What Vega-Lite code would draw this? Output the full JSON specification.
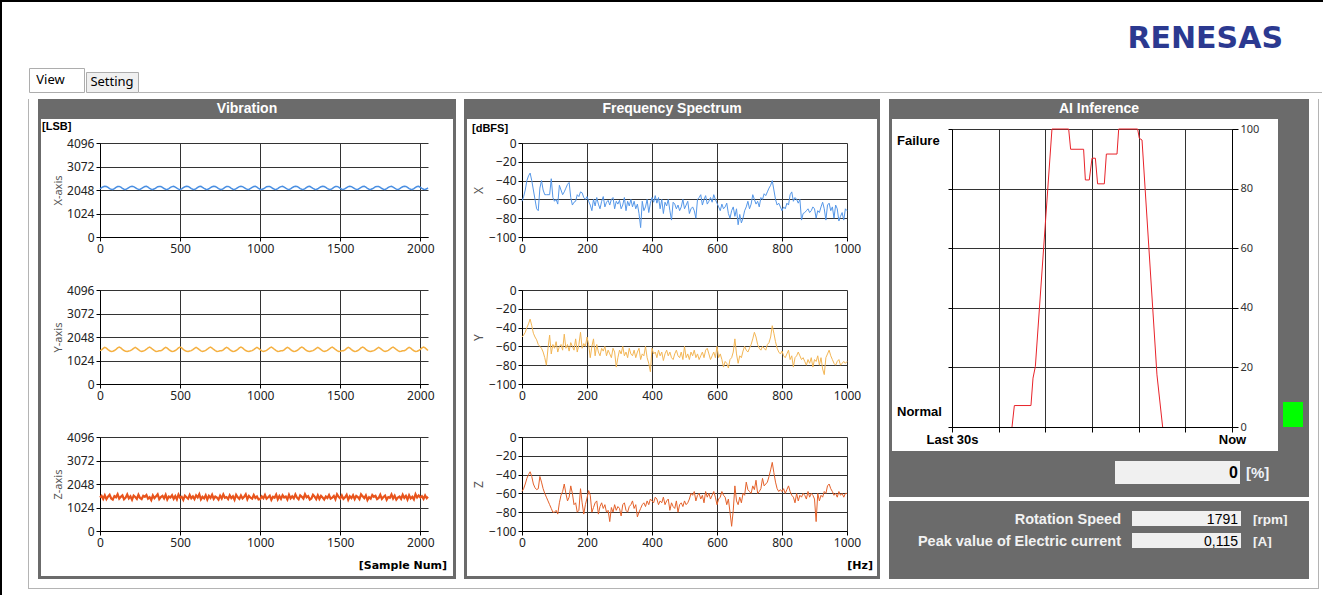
{
"$schema":"https://vega.github.io/schema/vega-lite/v6.json",
"background":"#ffffff",
"padding":0,
"spacing":0,
"config":{
"view":{"stroke":null},
"concat":{"spacing":0},
"text":{"font":"Liberation Sans"},
"axis":{"domainColor":"#000000","tickColor":"#000000","gridColor":"#333333","gridOpacity":1,"gridWidth":1,"tickSize":4,"labelFont":"Noto Sans","labelFontSize":12,"labelColor":"#222222","labelPadding":2,"labelFlush":false,"labelOverlap":false,"titleFont":"Noto Sans","titleFontSize":11,"titleFontWeight":"normal","titleColor":"#555555","titlePadding":3}
},
"datasets":{
"vib":[
{"n":0,"x":2100,"y":1450,"z":1460},{"n":10,"x":2150,"y":1490,"z":1530},{"n":20,"x":2190,"y":1550,"z":1400},{"n":30,"x":2210,"y":1600,"z":1560},{"n":40,"x":2200,"y":1560,"z":1390},{"n":50,"x":2160,"y":1500,"z":1500},{"n":60,"x":2110,"y":1450,"z":1580},{"n":70,"x":2080,"y":1420,"z":1420},{"n":80,"x":2070,"y":1430,"z":1370},{"n":90,"x":2110,"y":1460,"z":1520},
{"n":100,"x":2160,"y":1510,"z":1470},{"n":110,"x":2200,"y":1570,"z":1600},{"n":120,"x":2205,"y":1610,"z":1410},{"n":130,"x":2170,"y":1570,"z":1490},{"n":140,"x":2120,"y":1510,"z":1550},{"n":150,"x":2085,"y":1460,"z":1380},{"n":160,"x":2075,"y":1425,"z":1450},{"n":170,"x":2105,"y":1420,"z":1590},{"n":180,"x":2155,"y":1440,"z":1420},{"n":190,"x":2195,"y":1455,"z":1510},
{"n":200,"x":2215,"y":1500,"z":1360},{"n":210,"x":2195,"y":1555,"z":1540},{"n":220,"x":2155,"y":1595,"z":1480},{"n":230,"x":2105,"y":1555,"z":1400},{"n":240,"x":2075,"y":1495,"z":1580},{"n":250,"x":2070,"y":1445,"z":1440},{"n":260,"x":2115,"y":1415,"z":1390},{"n":270,"x":2165,"y":1435,"z":1530},{"n":280,"x":2200,"y":1465,"z":1490},{"n":290,"x":2210,"y":1515,"z":1570},
{"n":300,"x":2175,"y":1575,"z":1410},{"n":310,"x":2115,"y":1605,"z":1470},{"n":320,"x":2080,"y":1565,"z":1350},{"n":330,"x":2070,"y":1505,"z":1550},{"n":340,"x":2100,"y":1455,"z":1430},{"n":350,"x":2145,"y":1420,"z":1510},{"n":360,"x":2190,"y":1425,"z":1600},{"n":370,"x":2205,"y":1445,"z":1390},{"n":380,"x":2200,"y":1450,"z":1480},{"n":390,"x":2165,"y":1490,"z":1530},
{"n":400,"x":2110,"y":1550,"z":1420},{"n":410,"x":2085,"y":1600,"z":1580},{"n":420,"x":2075,"y":1560,"z":1370},{"n":430,"x":2110,"y":1500,"z":1500},{"n":440,"x":2160,"y":1450,"z":1460},{"n":450,"x":2195,"y":1420,"z":1560},{"n":460,"x":2205,"y":1430,"z":1400},{"n":470,"x":2170,"y":1460,"z":1520},{"n":480,"x":2125,"y":1510,"z":1380},{"n":490,"x":2085,"y":1570,"z":1590},
{"n":500,"x":2070,"y":1610,"z":1450},{"n":510,"x":2095,"y":1570,"z":1490},{"n":520,"x":2150,"y":1510,"z":1360},{"n":530,"x":2190,"y":1460,"z":1540},{"n":540,"x":2210,"y":1425,"z":1470},{"n":550,"x":2205,"y":1420,"z":1410},{"n":560,"x":2160,"y":1440,"z":1570},{"n":570,"x":2105,"y":1455,"z":1430},{"n":580,"x":2080,"y":1500,"z":1510},{"n":590,"x":2070,"y":1555,"z":1390},
{"n":600,"x":2105,"y":1595,"z":1550},{"n":610,"x":2160,"y":1555,"z":1460},{"n":620,"x":2200,"y":1495,"z":1600},{"n":630,"x":2210,"y":1445,"z":1380},{"n":640,"x":2165,"y":1415,"z":1490},{"n":650,"x":2120,"y":1435,"z":1420},{"n":660,"x":2080,"y":1465,"z":1560},{"n":670,"x":2075,"y":1515,"z":1370},{"n":680,"x":2100,"y":1575,"z":1530},{"n":690,"x":2150,"y":1605,"z":1440},
{"n":700,"x":2190,"y":1565,"z":1580},{"n":710,"x":2210,"y":1505,"z":1400},{"n":720,"x":2200,"y":1455,"z":1500},{"n":730,"x":2160,"y":1420,"z":1460},{"n":740,"x":2110,"y":1425,"z":1370},{"n":750,"x":2080,"y":1445,"z":1540},{"n":760,"x":2070,"y":1450,"z":1420},{"n":770,"x":2110,"y":1490,"z":1590},{"n":780,"x":2160,"y":1550,"z":1450},{"n":790,"x":2200,"y":1600,"z":1480},
{"n":800,"x":2205,"y":1560,"z":1390},{"n":810,"x":2170,"y":1500,"z":1560},{"n":820,"x":2120,"y":1450,"z":1430},{"n":830,"x":2085,"y":1420,"z":1510},{"n":840,"x":2075,"y":1430,"z":1360},{"n":850,"x":2105,"y":1460,"z":1580},{"n":860,"x":2155,"y":1510,"z":1470},{"n":870,"x":2195,"y":1570,"z":1400},{"n":880,"x":2215,"y":1610,"z":1550},{"n":890,"x":2195,"y":1570,"z":1420},
{"n":900,"x":2155,"y":1510,"z":1490},{"n":910,"x":2105,"y":1460,"z":1600},{"n":920,"x":2075,"y":1425,"z":1380},{"n":930,"x":2070,"y":1420,"z":1530},{"n":940,"x":2115,"y":1440,"z":1450},{"n":950,"x":2165,"y":1455,"z":1410},{"n":960,"x":2200,"y":1500,"z":1570},{"n":970,"x":2210,"y":1555,"z":1440},{"n":980,"x":2175,"y":1595,"z":1500},{"n":990,"x":2115,"y":1555,"z":1370},
{"n":1000,"x":2080,"y":1495,"z":1390},{"n":1010,"x":2070,"y":1445,"z":1510},{"n":1020,"x":2100,"y":1415,"z":1430},{"n":1030,"x":2145,"y":1435,"z":1570},{"n":1040,"x":2190,"y":1465,"z":1410},{"n":1050,"x":2205,"y":1515,"z":1470},{"n":1060,"x":2200,"y":1575,"z":1540},{"n":1070,"x":2165,"y":1605,"z":1360},{"n":1080,"x":2110,"y":1565,"z":1490},{"n":1090,"x":2085,"y":1505,"z":1450},
{"n":1100,"x":2075,"y":1455,"z":1590},{"n":1110,"x":2110,"y":1420,"z":1380},{"n":1120,"x":2160,"y":1425,"z":1520},{"n":1130,"x":2195,"y":1445,"z":1400},{"n":1140,"x":2205,"y":1450,"z":1560},{"n":1150,"x":2170,"y":1490,"z":1460},{"n":1160,"x":2125,"y":1550,"z":1500},{"n":1170,"x":2085,"y":1600,"z":1370},{"n":1180,"x":2070,"y":1560,"z":1580},{"n":1190,"x":2095,"y":1500,"z":1420},
{"n":1200,"x":2150,"y":1450,"z":1510},{"n":1210,"x":2190,"y":1420,"z":1420},{"n":1220,"x":2210,"y":1430,"z":1590},{"n":1230,"x":2205,"y":1460,"z":1450},{"n":1240,"x":2160,"y":1510,"z":1380},{"n":1250,"x":2105,"y":1570,"z":1550},{"n":1260,"x":2080,"y":1610,"z":1490},{"n":1270,"x":2070,"y":1570,"z":1410},{"n":1280,"x":2105,"y":1510,"z":1600},{"n":1290,"x":2160,"y":1460,"z":1470},
{"n":1300,"x":2200,"y":1425,"z":1520},{"n":1310,"x":2210,"y":1420,"z":1370},{"n":1320,"x":2165,"y":1440,"z":1420},{"n":1330,"x":2120,"y":1455,"z":1580},{"n":1340,"x":2080,"y":1500,"z":1500},{"n":1350,"x":2075,"y":1555,"z":1390},{"n":1360,"x":2100,"y":1595,"z":1560},{"n":1370,"x":2150,"y":1555,"z":1400},{"n":1380,"x":2190,"y":1495,"z":1530},{"n":1390,"x":2210,"y":1445,"z":1460},
{"n":1400,"x":2200,"y":1415,"z":1370},{"n":1410,"x":2160,"y":1435,"z":1500},{"n":1420,"x":2110,"y":1465,"z":1440},{"n":1430,"x":2080,"y":1515,"z":1570},{"n":1440,"x":2070,"y":1575,"z":1410},{"n":1450,"x":2110,"y":1605,"z":1450},{"n":1460,"x":2160,"y":1565,"z":1530},{"n":1470,"x":2200,"y":1505,"z":1380},{"n":1480,"x":2205,"y":1455,"z":1600},{"n":1490,"x":2170,"y":1420,"z":1490},
{"n":1500,"x":2120,"y":1425,"z":1420},{"n":1510,"x":2085,"y":1445,"z":1550},{"n":1520,"x":2075,"y":1450,"z":1400},{"n":1530,"x":2105,"y":1490,"z":1470},{"n":1540,"x":2155,"y":1550,"z":1580},{"n":1550,"x":2195,"y":1600,"z":1360},{"n":1560,"x":2215,"y":1560,"z":1510},{"n":1570,"x":2195,"y":1500,"z":1430},{"n":1580,"x":2155,"y":1450,"z":1560},{"n":1590,"x":2105,"y":1420,"z":1390},
{"n":1600,"x":2075,"y":1430,"z":1530},{"n":1610,"x":2070,"y":1460,"z":1480},{"n":1620,"x":2115,"y":1510,"z":1390},{"n":1630,"x":2165,"y":1570,"z":1600},{"n":1640,"x":2200,"y":1610,"z":1510},{"n":1650,"x":2210,"y":1570,"z":1430},{"n":1660,"x":2175,"y":1510,"z":1550},{"n":1670,"x":2115,"y":1460,"z":1350},{"n":1680,"x":2080,"y":1425,"z":1470},{"n":1690,"x":2070,"y":1420,"z":1410},
{"n":1700,"x":2100,"y":1440,"z":1570},{"n":1710,"x":2145,"y":1455,"z":1490},{"n":1720,"x":2190,"y":1500,"z":1530},{"n":1730,"x":2205,"y":1555,"z":1390},{"n":1740,"x":2200,"y":1595,"z":1440},{"n":1750,"x":2165,"y":1555,"z":1580},{"n":1760,"x":2110,"y":1495,"z":1400},{"n":1770,"x":2085,"y":1445,"z":1480},{"n":1780,"x":2075,"y":1415,"z":1540},{"n":1790,"x":2110,"y":1435,"z":1360},
{"n":1800,"x":2160,"y":1465,"z":1480},{"n":1810,"x":2195,"y":1515,"z":1450},{"n":1820,"x":2205,"y":1575,"z":1590},{"n":1830,"x":2170,"y":1605,"z":1420},{"n":1840,"x":2125,"y":1565,"z":1540},{"n":1850,"x":2085,"y":1505,"z":1370},{"n":1860,"x":2070,"y":1455,"z":1460},{"n":1870,"x":2095,"y":1420,"z":1500},{"n":1880,"x":2150,"y":1425,"z":1400},{"n":1890,"x":2190,"y":1445,"z":1580},
{"n":1900,"x":2210,"y":1450,"z":1440},{"n":1910,"x":2205,"y":1490,"z":1530},{"n":1920,"x":2160,"y":1550,"z":1370},{"n":1930,"x":2105,"y":1600,"z":1560},{"n":1940,"x":2080,"y":1560,"z":1420},{"n":1950,"x":2070,"y":1500,"z":1490},{"n":1960,"x":2105,"y":1450,"z":1380},{"n":1970,"x":2160,"y":1420,"z":1600},{"n":1980,"x":2200,"y":1430,"z":1460},{"n":1990,"x":2210,"y":1460,"z":1550},
{"n":2000,"x":2165,"y":1510,"z":1460},{"n":2010,"x":2120,"y":1570,"z":1520},{"n":2020,"x":2080,"y":1610,"z":1400},{"n":2030,"x":2075,"y":1570,"z":1550},{"n":2040,"x":2100,"y":1510,"z":1430},{"n":2048,"x":2140,"y":1460,"z":1490}
],
"spec":[
{"f":0,"x":-62,"y":-50,"z":-58},{"f":5,"x":-57,"y":-48,"z":-55},{"f":10,"x":-50,"y":-45,"z":-50},{"f":15,"x":-40,"y":-40,"z":-44},{"f":20,"x":-35,"y":-36,"z":-40},{"f":25,"x":-32,"y":-31,"z":-37},{"f":30,"x":-40,"y":-38,"z":-42},{"f":35,"x":-50,"y":-46,"z":-50},{"f":40,"x":-60,"y":-50,"z":-54},{"f":45,"x":-70,"y":-53,"z":-56},
{"f":50,"x":-72,"y":-58,"z":-55},{"f":55,"x":-48,"y":-60,"z":-42},{"f":60,"x":-40,"y":-62,"z":-48},{"f":65,"x":-50,"y":-66,"z":-55},{"f":70,"x":-55,"y":-72,"z":-60},{"f":75,"x":-55,"y":-80,"z":-64},{"f":80,"x":-55,"y":-62,"z":-68},{"f":85,"x":-55,"y":-48,"z":-72},{"f":90,"x":-38,"y":-68,"z":-76},{"f":95,"x":-58,"y":-58,"z":-80},
{"f":100,"x":-62,"y":-62,"z":-80},{"f":105,"x":-60,"y":-55,"z":-78},{"f":110,"x":-65,"y":-66,"z":-82},{"f":115,"x":-45,"y":-60,"z":-70},{"f":120,"x":-50,"y":-58,"z":-62},{"f":125,"x":-55,"y":-64,"z":-58},{"f":130,"x":-52,"y":-47,"z":-50},{"f":135,"x":-48,"y":-62,"z":-60},{"f":140,"x":-44,"y":-58,"z":-68},{"f":145,"x":-42,"y":-65,"z":-64},
{"f":150,"x":-58,"y":-56,"z":-52},{"f":155,"x":-66,"y":-60,"z":-60},{"f":160,"x":-63,"y":-64,"z":-72},{"f":165,"x":-62,"y":-52,"z":-70},{"f":170,"x":-55,"y":-66,"z":-80},{"f":175,"x":-57,"y":-58,"z":-78},{"f":180,"x":-52,"y":-45,"z":-55},{"f":185,"x":-53,"y":-62,"z":-70},{"f":190,"x":-58,"y":-57,"z":-82},{"f":195,"x":-60,"y":-60,"z":-72},
{"f":200,"x":-57,"y":-50,"z":-65},{"f":205,"x":-62,"y":-58,"z":-57},{"f":210,"x":-66,"y":-72,"z":-62},{"f":215,"x":-72,"y":-60,"z":-80},{"f":220,"x":-60,"y":-52,"z":-75},{"f":225,"x":-67,"y":-70,"z":-70},{"f":230,"x":-58,"y":-58,"z":-68},{"f":235,"x":-65,"y":-66,"z":-82},{"f":240,"x":-70,"y":-70,"z":-74},{"f":245,"x":-62,"y":-62,"z":-70},
{"f":250,"x":-57,"y":-65,"z":-76},{"f":255,"x":-68,"y":-60,"z":-72},{"f":260,"x":-63,"y":-70,"z":-80},{"f":265,"x":-61,"y":-64,"z":-78},{"f":270,"x":-66,"y":-68,"z":-90},{"f":275,"x":-60,"y":-72,"z":-75},{"f":280,"x":-58,"y":-62,"z":-80},{"f":285,"x":-70,"y":-66,"z":-72},{"f":290,"x":-62,"y":-82,"z":-78},{"f":295,"x":-65,"y":-72,"z":-74},
{"f":300,"x":-61,"y":-64,"z":-76},{"f":305,"x":-70,"y":-68,"z":-84},{"f":310,"x":-66,"y":-60,"z":-72},{"f":315,"x":-58,"y":-70,"z":-70},{"f":320,"x":-72,"y":-66,"z":-78},{"f":325,"x":-62,"y":-72,"z":-80},{"f":330,"x":-67,"y":-62,"z":-74},{"f":335,"x":-60,"y":-68,"z":-72},{"f":340,"x":-68,"y":-70,"z":-68},{"f":345,"x":-62,"y":-64,"z":-76},
{"f":350,"x":-70,"y":-72,"z":-72},{"f":355,"x":-65,"y":-66,"z":-85},{"f":360,"x":-75,"y":-62,"z":-80},{"f":365,"x":-90,"y":-74,"z":-76},{"f":370,"x":-62,"y":-68,"z":-72},{"f":375,"x":-72,"y":-70,"z":-70},{"f":380,"x":-68,"y":-60,"z":-74},{"f":385,"x":-60,"y":-72,"z":-68},{"f":390,"x":-74,"y":-78,"z":-72},{"f":395,"x":-64,"y":-87,"z":-66},
{"f":400,"x":-58,"y":-62,"z":-68},{"f":405,"x":-63,"y":-68,"z":-70},{"f":410,"x":-56,"y":-66,"z":-64},{"f":415,"x":-64,"y":-72,"z":-66},{"f":420,"x":-58,"y":-64,"z":-72},{"f":425,"x":-70,"y":-70,"z":-68},{"f":430,"x":-60,"y":-66,"z":-70},{"f":435,"x":-75,"y":-75,"z":-64},{"f":440,"x":-63,"y":-68,"z":-72},{"f":445,"x":-67,"y":-64,"z":-68},
{"f":450,"x":-60,"y":-70,"z":-66},{"f":455,"x":-72,"y":-66,"z":-78},{"f":460,"x":-82,"y":-72,"z":-70},{"f":465,"x":-63,"y":-74,"z":-74},{"f":470,"x":-65,"y":-68,"z":-76},{"f":475,"x":-70,"y":-64,"z":-68},{"f":480,"x":-66,"y":-70,"z":-80},{"f":485,"x":-72,"y":-72,"z":-72},{"f":490,"x":-68,"y":-66,"z":-70},{"f":495,"x":-60,"y":-74,"z":-74},
{"f":500,"x":-70,"y":-60,"z":-68},{"f":505,"x":-66,"y":-72,"z":-72},{"f":510,"x":-62,"y":-68,"z":-70},{"f":515,"x":-75,"y":-74,"z":-66},{"f":520,"x":-70,"y":-66,"z":-60},{"f":525,"x":-68,"y":-70,"z":-62},{"f":530,"x":-72,"y":-64,"z":-58},{"f":535,"x":-80,"y":-72,"z":-68},{"f":540,"x":-60,"y":-68,"z":-62},{"f":545,"x":-58,"y":-74,"z":-60},
{"f":550,"x":-55,"y":-70,"z":-66},{"f":555,"x":-66,"y":-66,"z":-62},{"f":560,"x":-60,"y":-72,"z":-70},{"f":565,"x":-56,"y":-64,"z":-58},{"f":570,"x":-65,"y":-62,"z":-64},{"f":575,"x":-62,"y":-68,"z":-60},{"f":580,"x":-58,"y":-74,"z":-66},{"f":585,"x":-63,"y":-70,"z":-62},{"f":590,"x":-55,"y":-66,"z":-58},{"f":595,"x":-60,"y":-72,"z":-64},
{"f":600,"x":-64,"y":-60,"z":-72},{"f":605,"x":-68,"y":-72,"z":-66},{"f":610,"x":-72,"y":-68,"z":-64},{"f":615,"x":-65,"y":-74,"z":-58},{"f":620,"x":-70,"y":-82,"z":-62},{"f":625,"x":-68,"y":-76,"z":-64},{"f":630,"x":-64,"y":-78,"z":-72},{"f":635,"x":-75,"y":-83,"z":-66},{"f":640,"x":-80,"y":-74,"z":-80},{"f":645,"x":-72,"y":-72,"z":-95},
{"f":650,"x":-68,"y":-66,"z":-78},{"f":655,"x":-78,"y":-52,"z":-52},{"f":660,"x":-70,"y":-68,"z":-68},{"f":665,"x":-87,"y":-78,"z":-72},{"f":670,"x":-76,"y":-70,"z":-64},{"f":675,"x":-85,"y":-72,"z":-70},{"f":680,"x":-80,"y":-65,"z":-60},{"f":685,"x":-72,"y":-60,"z":-62},{"f":690,"x":-68,"y":-64,"z":-48},{"f":695,"x":-62,"y":-66,"z":-56},
{"f":700,"x":-70,"y":-62,"z":-58},{"f":705,"x":-65,"y":-58,"z":-60},{"f":710,"x":-55,"y":-52,"z":-52},{"f":715,"x":-60,"y":-45,"z":-56},{"f":720,"x":-65,"y":-50,"z":-46},{"f":725,"x":-62,"y":-58,"z":-60},{"f":730,"x":-68,"y":-62,"z":-58},{"f":735,"x":-58,"y":-64,"z":-55},{"f":740,"x":-60,"y":-60,"z":-44},{"f":745,"x":-54,"y":-62,"z":-52},
{"f":750,"x":-56,"y":-64,"z":-50},{"f":755,"x":-52,"y":-58,"z":-48},{"f":760,"x":-48,"y":-56,"z":-42},{"f":765,"x":-45,"y":-50,"z":-35},{"f":770,"x":-40,"y":-38,"z":-27},{"f":775,"x":-50,"y":-46,"z":-38},{"f":780,"x":-60,"y":-55,"z":-48},{"f":785,"x":-66,"y":-62,"z":-55},{"f":790,"x":-64,"y":-66,"z":-58},{"f":795,"x":-68,"y":-68,"z":-56},
{"f":800,"x":-72,"y":-65,"z":-58},{"f":805,"x":-68,"y":-70,"z":-55},{"f":810,"x":-70,"y":-72,"z":-60},{"f":815,"x":-64,"y":-68,"z":-56},{"f":820,"x":-66,"y":-64,"z":-52},{"f":825,"x":-55,"y":-74,"z":-58},{"f":830,"x":-52,"y":-70,"z":-62},{"f":835,"x":-62,"y":-82,"z":-64},{"f":840,"x":-58,"y":-72,"z":-70},{"f":845,"x":-60,"y":-70,"z":-60},
{"f":850,"x":-64,"y":-66,"z":-68},{"f":855,"x":-60,"y":-70,"z":-62},{"f":860,"x":-82,"y":-74,"z":-64},{"f":865,"x":-75,"y":-72,"z":-60},{"f":870,"x":-74,"y":-76,"z":-62},{"f":875,"x":-72,"y":-80,"z":-66},{"f":880,"x":-70,"y":-74,"z":-58},{"f":885,"x":-74,"y":-78,"z":-64},{"f":890,"x":-72,"y":-72,"z":-60},{"f":895,"x":-68,"y":-82,"z":-62},
{"f":900,"x":-70,"y":-74,"z":-66},{"f":905,"x":-80,"y":-76,"z":-90},{"f":910,"x":-72,"y":-70,"z":-60},{"f":915,"x":-74,"y":-80,"z":-68},{"f":920,"x":-68,"y":-72,"z":-62},{"f":925,"x":-63,"y":-84,"z":-64},{"f":930,"x":-70,"y":-90,"z":-58},{"f":935,"x":-82,"y":-72,"z":-60},{"f":940,"x":-66,"y":-68,"z":-52},{"f":945,"x":-64,"y":-64,"z":-50},
{"f":950,"x":-72,"y":-70,"z":-55},{"f":955,"x":-68,"y":-74,"z":-58},{"f":960,"x":-80,"y":-78,"z":-62},{"f":965,"x":-66,"y":-80,"z":-60},{"f":970,"x":-70,"y":-76,"z":-64},{"f":975,"x":-83,"y":-74,"z":-58},{"f":980,"x":-78,"y":-80,"z":-62},{"f":985,"x":-74,"y":-78,"z":-60},{"f":990,"x":-82,"y":-76,"z":-64},{"f":995,"x":-70,"y":-78,"z":-60},
{"f":1000,"x":-72,"y":-76,"z":-60}
],
"ai":[
{"t":6.43,"p":0},{"t":6.68,"p":7.2},{"t":8.46,"p":7.2},{"t":8.68,"p":16.4},{"t":8.93,"p":20.3},{"t":10.71,"p":100},{"t":12.5,"p":100},{"t":12.71,"p":93.2},{"t":14.1,"p":93.2},{"t":14.29,"p":82.9},{"t":14.71,"p":82.9},{"t":15.0,"p":90.2},{"t":15.36,"p":90.2},{"t":15.6,"p":81.6},{"t":16.32,"p":81.6},{"t":16.54,"p":91.6},{"t":17.68,"p":91.6},{"t":17.86,"p":100},{"t":19.89,"p":100},{"t":20.07,"p":96.9},{"t":20.36,"p":96.3},{"t":21.96,"p":17.5},{"t":22.57,"p":0}
],
"meas":[{"k":"Rotation Speed","v":"1791","u":"[rpm]"},{"k":"Peak value of Electric current","v":"0,115","u":"[A]"}],
"now":[{"pct":"0"}]
},
"hconcat":[
{"width":2,"height":595,"data":{"values":[]},"mark":"rect","encoding":{},"view":{"fill":"#000000"}},
{"spacing":0,"vconcat":[
{"width":1321,"height":2,"data":{"values":[]},"mark":"rect","encoding":{},"view":{"fill":"#000000"}},
{"spacing":0,"hconcat":[
{"width":26,"height":97,"data":{"values":[]},"mark":"rect","encoding":{}},
{"spacing":0,"bounds":"flush","vconcat":[
{"width":55,"height":66,"data":{"values":[]},"mark":"rect","encoding":{}},
{"width":55,"height":24,"data":{"values":[{"t":"View"}]},"mark":{"type":"text","font":"Noto Sans","fontSize":13,"color":"#000000","dx":-6},"encoding":{"text":{"field":"t","type":"nominal"}},"view":{"fill":"#ffffff","stroke":"#adadad"}},
{"width":55,"height":7,"data":{"values":[]},"mark":"rect","encoding":{}}
]},
{"spacing":0,"bounds":"flush","vconcat":[
{"width":52,"height":70,"data":{"values":[]},"mark":"rect","encoding":{}},
{"width":52,"height":20,"data":{"values":[{"t":"Setting"}]},"mark":{"type":"text","font":"Noto Sans","fontSize":13,"color":"#000000"},"encoding":{"text":{"field":"t","type":"nominal"}},"view":{"fill":"#f0f0f0","stroke":"#adadad"}},
{"width":52,"height":7,"data":{"values":[]},"mark":"rect","encoding":{}}
]},
{"spacing":0,"bounds":"flush","vconcat":[
{"width":1188,"height":66,"data":{"values":[{"t":"RENESAS"}]},"mark":{"type":"text","font":"DejaVu Sans","fontSize":30,"fontWeight":"bold","color":"#2b3990","align":"right","dx":-44,"dy":4},"encoding":{"text":{"field":"t","type":"nominal"},"x":{"datum":1,"scale":{"domain":[0,1]},"axis":null}}},
{"width":1188,"height":24,"data":{"values":[]},"mark":"rect","encoding":{}},
{"width":1183,"height":1,"data":{"values":[]},"mark":"rect","encoding":{},"view":{"fill":"#b4b4b4"}},
{"width":1188,"height":6,"data":{"values":[]},"mark":"rect","encoding":{}}
]}
]},
{"spacing":0,"hconcat":[
{"columns":3,"spacing":0,"bounds":"flush","align":"each","concat":[
{"width":26,"height":489,"data":{"values":[]},"mark":"rect","encoding":{}},
{"width":1,"height":489,"data":{"values":[]},"mark":"rect","encoding":{},"view":{"fill":"#b4b4b4"}},
{"width":9,"height":489,"data":{"values":[]},"mark":"rect","encoding":{}},
{"width":26,"height":1,"data":{"values":[]},"mark":"rect","encoding":{}},
{"width":1,"height":1,"data":{"values":[]},"mark":"rect","encoding":{},"view":{"fill":"#b4b4b4"}},
{"width":9,"height":1,"data":{"values":[]},"mark":"rect","encoding":{},"view":{"fill":"#b4b4b4"}},
{"width":26,"height":6,"data":{"values":[]},"mark":"rect","encoding":{}},
{"width":1,"height":6,"data":{"values":[]},"mark":"rect","encoding":{}},
{"width":9,"height":6,"data":{"values":[]},"mark":"rect","encoding":{}}
]},
{"spacing":0,"vconcat":[
{"width":418,"height":20,"data":{"values":[{"t":"Vibration"}]},"mark":{"type":"text","color":"#ffffff","fontSize":14,"fontWeight":"bold"},"encoding":{"text":{"field":"t","type":"nominal"}},"view":{"fill":"#6b6b6b"}},
{"spacing":0,"hconcat":[
{"width":3,"height":457,"data":{"values":[]},"mark":"rect","encoding":{},"view":{"fill":"#6b6b6b"}},
{"columns":3,"spacing":0,"bounds":"flush","align":"each","concat":[
{"width":59,"height":24,"data":{"values":[{"t":"[LSB]"}]},"mark":{"type":"text","align":"left","dx":1,"dy":-4,"fontSize":11,"fontWeight":"bold","color":"#000000"},"encoding":{"text":{"field":"t","type":"nominal"},"x":{"datum":0,"scale":{"domain":[0,1]},"axis":null}}},
{"width":328,"height":24,"data":{"values":[]},"mark":"rect","encoding":{}},
{"width":25,"height":24,"data":{"values":[]},"mark":"rect","encoding":{}},
{"width":59,"height":94,"data":{"values":[]},"mark":"rect","encoding":{}},
{"width":328,"height":94,"data":{"name":"vib"},"mark":{"type":"line","color":"#4a8fe2","strokeWidth":1.5},"encoding":{"x":{"field":"n","type":"quantitative","scale":{"domain":[0,2048]},"axis":{"values":[0,500,1000,1500,2000],"format":"d","title":null}},"y":{"field":"x","type":"quantitative","scale":{"domain":[0,4096]},"axis":{"values":[0,1024,2048,3072,4096],"format":"d","title":"X-axis"}}}},
{"width":25,"height":94,"data":{"values":[]},"mark":"rect","encoding":{}},
{"width":59,"height":53,"data":{"values":[]},"mark":"rect","encoding":{}},
{"width":328,"height":53,"data":{"values":[]},"mark":"rect","encoding":{}},
{"width":25,"height":53,"data":{"values":[]},"mark":"rect","encoding":{}},
{"width":59,"height":94,"data":{"values":[]},"mark":"rect","encoding":{}},
{"width":328,"height":94,"data":{"name":"vib"},"mark":{"type":"line","color":"#f5b041","strokeWidth":1.5},"encoding":{"x":{"field":"n","type":"quantitative","scale":{"domain":[0,2048]},"axis":{"values":[0,500,1000,1500,2000],"format":"d","title":null}},"y":{"field":"y","type":"quantitative","scale":{"domain":[0,4096]},"axis":{"values":[0,1024,2048,3072,4096],"format":"d","title":"Y-axis"}}}},
{"width":25,"height":94,"data":{"values":[]},"mark":"rect","encoding":{}},
{"width":59,"height":53,"data":{"values":[]},"mark":"rect","encoding":{}},
{"width":328,"height":53,"data":{"values":[]},"mark":"rect","encoding":{}},
{"width":25,"height":53,"data":{"values":[]},"mark":"rect","encoding":{}},
{"width":59,"height":94,"data":{"values":[]},"mark":"rect","encoding":{}},
{"width":328,"height":94,"data":{"name":"vib"},"mark":{"type":"line","color":"#e8541c","strokeWidth":2.2},"encoding":{"x":{"field":"n","type":"quantitative","scale":{"domain":[0,2048]},"axis":{"values":[0,500,1000,1500,2000],"format":"d","title":null}},"y":{"field":"z","type":"quantitative","scale":{"domain":[0,4096]},"axis":{"values":[0,1024,2048,3072,4096],"format":"d","title":"Z-axis"}}}},
{"width":25,"height":94,"data":{"values":[]},"mark":"rect","encoding":{}},
{"width":59,"height":45,"data":{"values":[]},"mark":"rect","encoding":{}},
{"width":328,"height":45,"data":{"values":[]},"mark":"rect","encoding":{}},
{"width":25,"height":45,"data":{"values":[{"t":"[Sample Num]"}]},"mark":{"type":"text","align":"right","dx":-6,"dy":12,"font":"DejaVu Sans","fontSize":11,"fontWeight":"bold","color":"#000000"},"encoding":{"text":{"field":"t","type":"nominal"},"x":{"datum":1,"scale":{"domain":[0,1]},"axis":null}}}
]},
{"width":3,"height":457,"data":{"values":[]},"mark":"rect","encoding":{},"view":{"fill":"#6b6b6b"}}
]},
{"width":418,"height":3,"data":{"values":[]},"mark":"rect","encoding":{},"view":{"fill":"#6b6b6b"}},
{"width":418,"height":9,"data":{"values":[]},"mark":"rect","encoding":{}},
{"width":418,"height":1,"data":{"values":[]},"mark":"rect","encoding":{},"view":{"fill":"#b4b4b4"}},
{"width":418,"height":6,"data":{"values":[]},"mark":"rect","encoding":{}}
]},
{"spacing":0,"bounds":"flush","vconcat":[
{"width":8,"height":489,"data":{"values":[]},"mark":"rect","encoding":{}},
{"width":8,"height":1,"data":{"values":[]},"mark":"rect","encoding":{},"view":{"fill":"#b4b4b4"}},
{"width":8,"height":6,"data":{"values":[]},"mark":"rect","encoding":{}}
]},
{"spacing":0,"vconcat":[
{"width":416,"height":20,"data":{"values":[{"t":"Frequency Spectrum"}]},"mark":{"type":"text","color":"#ffffff","fontSize":14,"fontWeight":"bold"},"encoding":{"text":{"field":"t","type":"nominal"}},"view":{"fill":"#6b6b6b"}},
{"spacing":0,"hconcat":[
{"width":3,"height":457,"data":{"values":[]},"mark":"rect","encoding":{},"view":{"fill":"#6b6b6b"}},
{"columns":3,"spacing":0,"bounds":"flush","align":"each","concat":[
{"width":55,"height":24,"data":{"values":[{"t":"[dBFS]"}]},"mark":{"type":"text","align":"left","dx":5,"dy":-2,"fontSize":11,"fontWeight":"bold","color":"#000000"},"encoding":{"text":{"field":"t","type":"nominal"},"x":{"datum":0,"scale":{"domain":[0,1]},"axis":null}}},
{"width":325,"height":24,"data":{"values":[]},"mark":"rect","encoding":{}},
{"width":30,"height":24,"data":{"values":[]},"mark":"rect","encoding":{}},
{"width":55,"height":94,"data":{"values":[]},"mark":"rect","encoding":{}},
{"width":325,"height":94,"data":{"name":"spec"},"mark":{"type":"line","color":"#5597e8","strokeWidth":1},"encoding":{"x":{"field":"f","type":"quantitative","scale":{"domain":[0,1000]},"axis":{"values":[0,200,400,600,800,1000],"format":"d","title":null}},"y":{"field":"x","type":"quantitative","scale":{"domain":[-100,0]},"axis":{"values":[-100,-80,-60,-40,-20,0],"title":"X","titleFontSize":12}}}},
{"width":30,"height":94,"data":{"values":[]},"mark":"rect","encoding":{}},
{"width":55,"height":53,"data":{"values":[]},"mark":"rect","encoding":{}},
{"width":325,"height":53,"data":{"values":[]},"mark":"rect","encoding":{}},
{"width":30,"height":53,"data":{"values":[]},"mark":"rect","encoding":{}},
{"width":55,"height":94,"data":{"values":[]},"mark":"rect","encoding":{}},
{"width":325,"height":94,"data":{"name":"spec"},"mark":{"type":"line","color":"#f3b655","strokeWidth":1},"encoding":{"x":{"field":"f","type":"quantitative","scale":{"domain":[0,1000]},"axis":{"values":[0,200,400,600,800,1000],"format":"d","title":null}},"y":{"field":"y","type":"quantitative","scale":{"domain":[-100,0]},"axis":{"values":[-100,-80,-60,-40,-20,0],"title":"Y","titleFontSize":12}}}},
{"width":30,"height":94,"data":{"values":[]},"mark":"rect","encoding":{}},
{"width":55,"height":53,"data":{"values":[]},"mark":"rect","encoding":{}},
{"width":325,"height":53,"data":{"values":[]},"mark":"rect","encoding":{}},
{"width":30,"height":53,"data":{"values":[]},"mark":"rect","encoding":{}},
{"width":55,"height":94,"data":{"values":[]},"mark":"rect","encoding":{}},
{"width":325,"height":94,"data":{"name":"spec"},"mark":{"type":"line","color":"#e4612a","strokeWidth":1},"encoding":{"x":{"field":"f","type":"quantitative","scale":{"domain":[0,1000]},"axis":{"values":[0,200,400,600,800,1000],"format":"d","title":null}},"y":{"field":"z","type":"quantitative","scale":{"domain":[-100,0]},"axis":{"values":[-100,-80,-60,-40,-20,0],"title":"Z","titleFontSize":12}}}},
{"width":30,"height":94,"data":{"values":[]},"mark":"rect","encoding":{}},
{"width":55,"height":45,"data":{"values":[]},"mark":"rect","encoding":{}},
{"width":325,"height":45,"data":{"values":[]},"mark":"rect","encoding":{}},
{"width":30,"height":45,"data":{"values":[{"t":"[Hz]"}]},"mark":{"type":"text","align":"right","dx":-4,"dy":12,"font":"DejaVu Sans","fontSize":11,"fontWeight":"bold","color":"#000000"},"encoding":{"text":{"field":"t","type":"nominal"},"x":{"datum":1,"scale":{"domain":[0,1]},"axis":null}}}
]},
{"width":3,"height":457,"data":{"values":[]},"mark":"rect","encoding":{},"view":{"fill":"#6b6b6b"}}
]},
{"width":416,"height":3,"data":{"values":[]},"mark":"rect","encoding":{},"view":{"fill":"#6b6b6b"}},
{"width":416,"height":9,"data":{"values":[]},"mark":"rect","encoding":{}},
{"width":416,"height":1,"data":{"values":[]},"mark":"rect","encoding":{},"view":{"fill":"#b4b4b4"}},
{"width":416,"height":6,"data":{"values":[]},"mark":"rect","encoding":{}}
]},
{"spacing":0,"bounds":"flush","vconcat":[
{"width":9,"height":489,"data":{"values":[]},"mark":"rect","encoding":{}},
{"width":9,"height":1,"data":{"values":[]},"mark":"rect","encoding":{},"view":{"fill":"#b4b4b4"}},
{"width":9,"height":6,"data":{"values":[]},"mark":"rect","encoding":{}}
]},
{"spacing":0,"vconcat":[
{"width":420,"height":20,"data":{"values":[{"t":"AI Inference"}]},"mark":{"type":"text","color":"#ffffff","fontSize":14,"fontWeight":"bold"},"encoding":{"text":{"field":"t","type":"nominal"}},"view":{"fill":"#6b6b6b"}},
{"spacing":0,"hconcat":[
{"width":3,"height":332,"data":{"values":[]},"mark":"rect","encoding":{},"view":{"fill":"#6b6b6b"}},
{"columns":3,"spacing":0,"bounds":"flush","align":"each","concat":[
{"width":60,"height":10,"data":{"values":[]},"mark":"rect","encoding":{}},
{"width":280,"height":10,"data":{"values":[]},"mark":"rect","encoding":{}},
{"width":46,"height":10,"data":{"values":[]},"mark":"rect","encoding":{}},
{"width":60,"height":298,"data":{"values":[{"t":"Failure","v":96},{"t":"Normal","v":5}]},"mark":{"type":"text","align":"left","dx":5,"fontSize":13,"fontWeight":"bold","color":"#000000"},"encoding":{"text":{"field":"t","type":"nominal"},"x":{"datum":0,"scale":{"domain":[0,1]},"axis":null},"y":{"field":"v","type":"quantitative","scale":{"domain":[0,100]},"axis":null}}},
{"width":280,"height":298,"data":{"name":"ai"},"layer":[
{"mark":{"type":"line","color":"#e8232a","strokeWidth":1},"encoding":{"x":{"field":"t","type":"quantitative","scale":{"domain":[0,30]},"axis":{"values":[0,5,10,15,20,25,30],"title":null,"tickSize":5,"labelPadding":1,"labelExpr":"datum.value == 0 ? 'Last 30s' : (datum.value == 30 ? 'Now' : '')","labelFont":"Liberation Sans","labelFontWeight":"bold","labelFontSize":13,"labelColor":"#000000"}},"y":{"field":"p","type":"quantitative","scale":{"domain":[0,100]},"axis":{"orient":"right","values":[0,20,40,60,80,100],"title":null,"tickSize":6,"labelFontSize":11,"labelColor":"#333333"}}}},
{"data":{"values":[]},"mark":{"type":"point"},"encoding":{"y":{"field":"p","type":"quantitative","scale":{"domain":[0,100]},"axis":{"orient":"left","values":[0,20,40,60,80,100],"labels":false,"grid":false,"title":null,"tickSize":4}}}}
],"resolve":{"axis":{"y":"independent"}}},
{"width":46,"height":298,"data":{"values":[]},"mark":"rect","encoding":{}},
{"width":60,"height":24,"data":{"values":[]},"mark":"rect","encoding":{}},
{"width":280,"height":24,"data":{"values":[]},"mark":"rect","encoding":{}},
{"width":46,"height":24,"data":{"values":[]},"mark":"rect","encoding":{}}
]},
{"columns":3,"spacing":0,"bounds":"flush","align":"each","concat":[
{"width":5,"height":283,"data":{"values":[]},"mark":"rect","encoding":{},"view":{"fill":"#6b6b6b"}},
{"width":20,"height":283,"data":{"values":[]},"mark":"rect","encoding":{},"view":{"fill":"#6b6b6b"}},
{"width":6,"height":283,"data":{"values":[]},"mark":"rect","encoding":{},"view":{"fill":"#6b6b6b"}},
{"width":5,"height":25,"data":{"values":[]},"mark":"rect","encoding":{},"view":{"fill":"#6b6b6b"}},
{"width":20,"height":25,"data":{"values":[]},"mark":"rect","encoding":{},"view":{"fill":"#00ff00"}},
{"width":6,"height":25,"data":{"values":[]},"mark":"rect","encoding":{},"view":{"fill":"#6b6b6b"}},
{"width":5,"height":24,"data":{"values":[]},"mark":"rect","encoding":{},"view":{"fill":"#6b6b6b"}},
{"width":20,"height":24,"data":{"values":[]},"mark":"rect","encoding":{},"view":{"fill":"#6b6b6b"}},
{"width":6,"height":24,"data":{"values":[]},"mark":"rect","encoding":{},"view":{"fill":"#6b6b6b"}}
]}
]},
{"columns":3,"spacing":0,"bounds":"flush","align":"each","concat":[
{"width":226,"height":10,"data":{"values":[]},"mark":"rect","encoding":{},"view":{"fill":"#6b6b6b"}},
{"width":125,"height":10,"data":{"values":[]},"mark":"rect","encoding":{},"view":{"fill":"#6b6b6b"}},
{"width":69,"height":10,"data":{"values":[]},"mark":"rect","encoding":{},"view":{"fill":"#6b6b6b"}},
{"width":226,"height":23,"data":{"values":[]},"mark":"rect","encoding":{},"view":{"fill":"#6b6b6b"}},
{"width":125,"height":23,"data":{"name":"now"},"mark":{"type":"text","align":"right","dx":-2,"fontSize":16,"fontWeight":"bold","color":"#000000"},"encoding":{"text":{"field":"pct","type":"nominal"},"x":{"datum":1,"scale":{"domain":[0,1]},"axis":null}},"view":{"fill":"#f0f0f0"}},
{"width":69,"height":23,"data":{"values":[{"t":"[%]"}]},"mark":{"type":"text","align":"left","dx":6,"fontSize":15,"fontWeight":"bold","color":"#eef2f8"},"encoding":{"text":{"field":"t","type":"nominal"},"x":{"datum":0,"scale":{"domain":[0,1]},"axis":null}},"view":{"fill":"#6b6b6b"}},
{"width":226,"height":13,"data":{"values":[]},"mark":"rect","encoding":{},"view":{"fill":"#6b6b6b"}},
{"width":125,"height":13,"data":{"values":[]},"mark":"rect","encoding":{},"view":{"fill":"#6b6b6b"}},
{"width":69,"height":13,"data":{"values":[]},"mark":"rect","encoding":{},"view":{"fill":"#6b6b6b"}}
]},
{"width":420,"height":4,"data":{"values":[]},"mark":"rect","encoding":{}},
{"columns":3,"spacing":0,"bounds":"flush","align":"each","concat":[
{"width":243,"height":10,"data":{"values":[]},"mark":"rect","encoding":{},"view":{"fill":"#6b6b6b"}},
{"width":109,"height":10,"data":{"values":[]},"mark":"rect","encoding":{},"view":{"fill":"#6b6b6b"}},
{"width":68,"height":10,"data":{"values":[]},"mark":"rect","encoding":{},"view":{"fill":"#6b6b6b"}},
{"width":243,"height":15,"data":{"name":"meas"},"transform":[{"filter":"datum.u == '[rpm]'"}],"mark":{"type":"text","align":"right","dx":-11,"dy":1,"fontSize":14.5,"fontWeight":"bold","color":"#f2f2f2"},"encoding":{"text":{"field":"k","type":"nominal"},"x":{"datum":1,"scale":{"domain":[0,1]},"axis":null}},"view":{"fill":"#6b6b6b"}},
{"width":109,"height":15,"data":{"name":"meas"},"transform":[{"filter":"datum.u == '[rpm]'"}],"mark":{"type":"text","align":"right","dx":-3,"dy":1,"fontSize":14,"color":"#000000"},"encoding":{"text":{"field":"v","type":"nominal"},"x":{"datum":1,"scale":{"domain":[0,1]},"axis":null}},"view":{"fill":"#f0f0f0"}},
{"width":68,"height":15,"data":{"name":"meas"},"transform":[{"filter":"datum.u == '[rpm]'"}],"mark":{"type":"text","align":"left","dx":12,"dy":1,"fontSize":13.5,"fontWeight":"bold","color":"#f2f2f2"},"encoding":{"text":{"field":"u","type":"nominal"},"x":{"datum":0,"scale":{"domain":[0,1]},"axis":null}},"view":{"fill":"#6b6b6b"}},
{"width":243,"height":7,"data":{"values":[]},"mark":"rect","encoding":{},"view":{"fill":"#6b6b6b"}},
{"width":109,"height":7,"data":{"values":[]},"mark":"rect","encoding":{},"view":{"fill":"#6b6b6b"}},
{"width":68,"height":7,"data":{"values":[]},"mark":"rect","encoding":{},"view":{"fill":"#6b6b6b"}},
{"width":243,"height":15,"data":{"name":"meas"},"transform":[{"filter":"datum.u == '[A]'"}],"mark":{"type":"text","align":"right","dx":-11,"dy":1,"fontSize":14.5,"fontWeight":"bold","color":"#f2f2f2"},"encoding":{"text":{"field":"k","type":"nominal"},"x":{"datum":1,"scale":{"domain":[0,1]},"axis":null}},"view":{"fill":"#6b6b6b"}},
{"width":109,"height":15,"data":{"name":"meas"},"transform":[{"filter":"datum.u == '[A]'"}],"mark":{"type":"text","align":"right","dx":-3,"dy":1,"fontSize":14,"color":"#000000"},"encoding":{"text":{"field":"v","type":"nominal"},"x":{"datum":1,"scale":{"domain":[0,1]},"axis":null}},"view":{"fill":"#f0f0f0"}},
{"width":68,"height":15,"data":{"name":"meas"},"transform":[{"filter":"datum.u == '[A]'"}],"mark":{"type":"text","align":"left","dx":12,"dy":1,"fontSize":13.5,"fontWeight":"bold","color":"#f2f2f2"},"encoding":{"text":{"field":"u","type":"nominal"},"x":{"datum":0,"scale":{"domain":[0,1]},"axis":null}},"view":{"fill":"#6b6b6b"}},
{"width":243,"height":31,"data":{"values":[]},"mark":"rect","encoding":{},"view":{"fill":"#6b6b6b"}},
{"width":109,"height":31,"data":{"values":[]},"mark":"rect","encoding":{},"view":{"fill":"#6b6b6b"}},
{"width":68,"height":31,"data":{"values":[]},"mark":"rect","encoding":{},"view":{"fill":"#6b6b6b"}}
]},
{"width":420,"height":9,"data":{"values":[]},"mark":"rect","encoding":{}},
{"width":420,"height":1,"data":{"values":[]},"mark":"rect","encoding":{},"view":{"fill":"#b4b4b4"}},
{"width":420,"height":6,"data":{"values":[]},"mark":"rect","encoding":{}}
]},
{"columns":3,"spacing":0,"bounds":"flush","align":"each","concat":[
{"width":9,"height":489,"data":{"values":[]},"mark":"rect","encoding":{}},
{"width":1,"height":489,"data":{"values":[]},"mark":"rect","encoding":{},"view":{"fill":"#b4b4b4"}},
{"width":4,"height":489,"data":{"values":[]},"mark":"rect","encoding":{}},
{"width":9,"height":1,"data":{"values":[]},"mark":"rect","encoding":{},"view":{"fill":"#b4b4b4"}},
{"width":1,"height":1,"data":{"values":[]},"mark":"rect","encoding":{},"view":{"fill":"#b4b4b4"}},
{"width":4,"height":1,"data":{"values":[]},"mark":"rect","encoding":{}},
{"width":9,"height":6,"data":{"values":[]},"mark":"rect","encoding":{}},
{"width":1,"height":6,"data":{"values":[]},"mark":"rect","encoding":{}},
{"width":4,"height":6,"data":{"values":[]},"mark":"rect","encoding":{}}
]}
]}
]},
{"width":2,"height":595,"data":{"values":[]},"mark":"rect","encoding":{},"view":{"fill":"#000000"}}
]
}
